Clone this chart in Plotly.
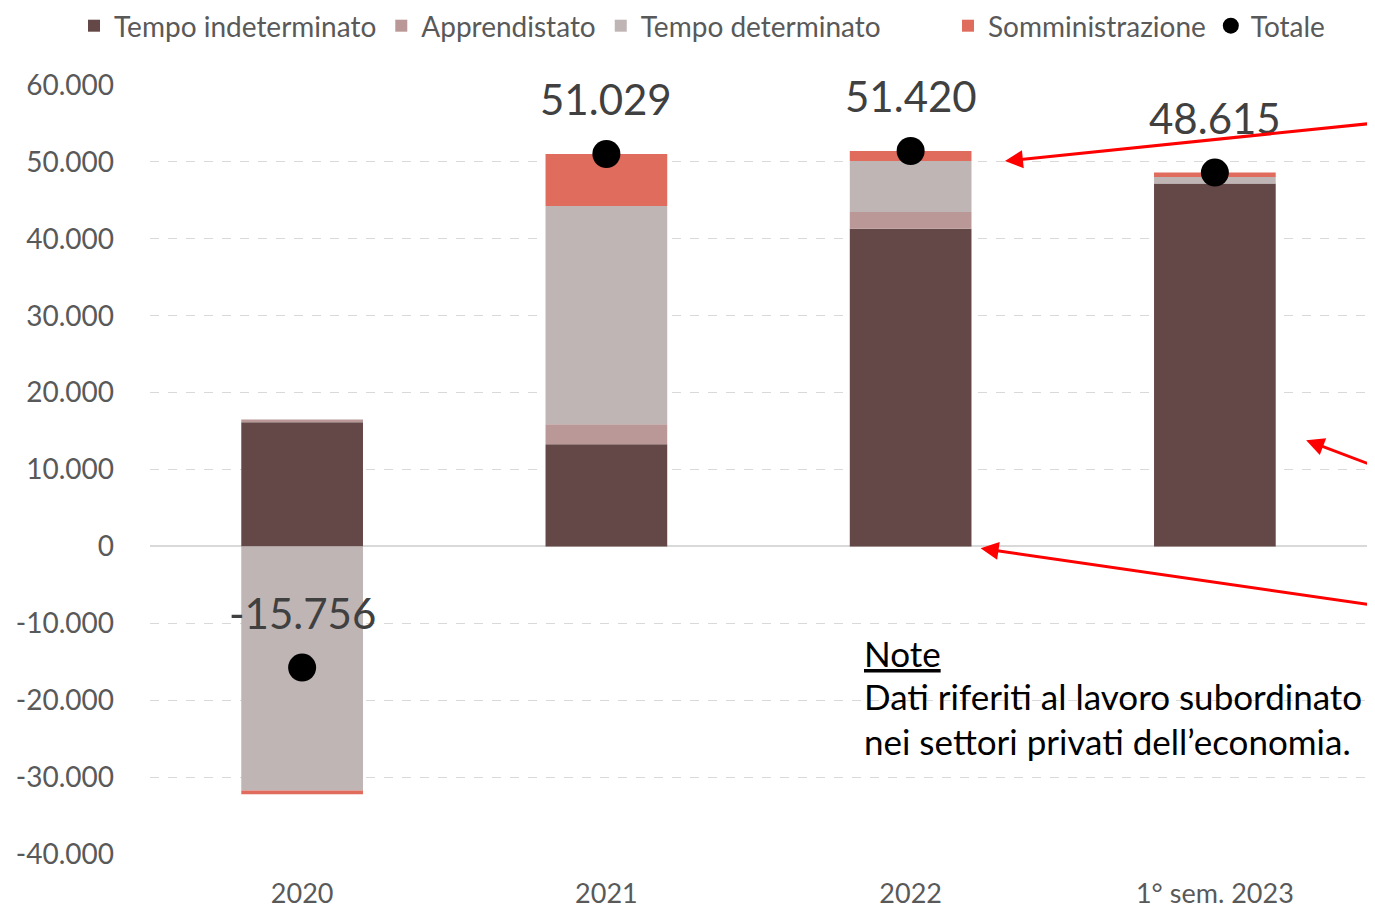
import plotly.graph_objects as go

categories = ["2020", "2021", "2022", "1° sem. 2023"]
tempo_indeterminato = [16140, 13280, 41300, 47200]
apprendistato = [350, 2600, 2170, 0]
tempo_determinato = [-31750, 28370, 6640, 830]
somministrazione = [-496, 6779, 1310, 585]
totale = [-15756, 51029, 51420, 48615]
totale_labels = ["-15.756", "51.029", "51.420", "48.615"]
tick_vals = [-40000, -30000, -20000, -10000, 0, 10000, 20000, 30000, 40000, 50000, 60000]
tick_text = ["-40.000", "-30.000", "-20.000", "-10.000", "0", "10.000", "20.000", "30.000", "40.000", "50.000", "60.000"]

FONT = "Lato"
GREY = "#595959"

fig = go.Figure()
series = [
    ("Tempo indeterminato", tempo_indeterminato, "#644747", "legend"),
    ("Apprendistato", apprendistato, "#b99897", "legend"),
    ("Tempo determinato", tempo_determinato, "#bfb5b5", "legend"),
    ("Somministrazione", somministrazione, "#e06c5d", "legend2"),
]
for name, vals, col, lg in series:
    fig.add_trace(go.Bar(x=categories, y=vals, name=name, legend=lg,
                         marker=dict(color=col, line=dict(width=0)), width=0.4))

fig.add_trace(go.Scatter(x=categories, y=totale, name="Totale", mode="markers", legend="legend2",
                         marker=dict(color="black", size=28)))

for i, (v, t) in enumerate(zip(totale, totale_labels)):
    fig.add_annotation(x=i, y=v, xref="x", yref="y", text=t, showarrow=False, yshift=55,
                       yanchor="middle", font=dict(family=FONT, size=42, color="#404040"))

# arrows (head positions in axis units: category index, value)
arrows = [
    (2.31, 50110, 378, -38),
    (3.30, 13800, 75, 26),
    (2.23, -250, 400, 57),
]
for xx, yy, ax, ay in arrows:
    fig.add_annotation(x=xx, y=yy, xref="x", yref="y", text="", showarrow=True,
                       ax=ax, ay=ay, axref="pixel", ayref="pixel",
                       arrowhead=2, arrowsize=1.2, arrowwidth=3, arrowcolor="#ff0000")

# note
note_lines = ["<u>Note</u>", "Dati riferiti al lavoro subordinato", "nei settori privati dell’economia."]
note_y = [653, 696, 741]
for line, py in zip(note_lines, note_y):
    fig.add_annotation(xref="paper", yref="paper", x=(862 - 150) / 1217, y=(854 - py) / 769,
                       xanchor="left", yanchor="middle", text=line, showarrow=False,
                       font=dict(family=FONT, size=35, color="#000000"))

legend_common = dict(orientation="h", xref="container", xanchor="left",
                     yref="container", y=1 - 18 / 901, yanchor="middle",
                     font=dict(size=28, color=GREY, family=FONT),
                     itemwidth=30, tracegroupgap=0, bgcolor="rgba(0,0,0,0)")

fig.update_layout(
    barmode="relative",
    width=1367, height=901,
    margin=dict(l=142, r=8, t=77, b=55, autoexpand=False),
    plot_bgcolor="white", paper_bgcolor="white",
    font=dict(family=FONT, size=26, color=GREY),
    showlegend=True,
    legend=dict(x=66 / 1367, **legend_common),
    legend2=dict(x=940 / 1367, **legend_common),
)
fig.update_xaxes(type="category", range=[-0.5, 3.5], tickfont=dict(size=27, color=GREY),
                 showgrid=False, showline=False, ticks="", automargin=False, ticklabelstandoff=21)
fig.update_yaxes(range=[-40000, 60000], tickvals=tick_vals, ticktext=tick_text,
                 tickfont=dict(size=28, color=GREY), showgrid=True, gridcolor="#d9d9d9",
                 griddash="dash", gridwidth=1.3, zeroline=True, zerolinecolor="#d9d9d9",
                 zerolinewidth=2, ticks="", showline=False, ticklabelstandoff=35, automargin=False)

fig.write_html("out.html")
